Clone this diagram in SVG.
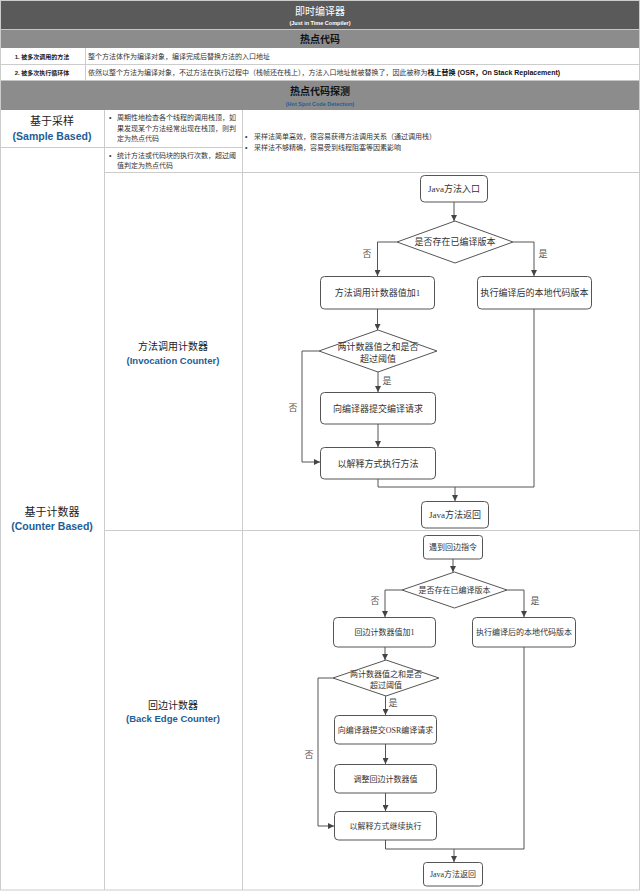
<svg xmlns="http://www.w3.org/2000/svg" width="640" height="893" viewBox="0 0 640 893">
<defs>
<marker id="ah" markerWidth="6" markerHeight="6" refX="6" refY="3" orient="auto" markerUnits="userSpaceOnUse"><path d="M0,0 L6,3 L0,6 z" fill="#444"/></marker>
<style>
.grid{stroke:#cccccc;stroke-width:1;fill:none}
.hdr{font-family:"Liberation Sans","Noto Sans CJK SC",sans-serif;text-anchor:middle}
.t{font-family:"Liberation Sans","Noto Sans CJK SC",sans-serif;fill:#333;font-size:7px}
.lbl{font-family:"Liberation Sans","Noto Sans CJK SC",sans-serif;text-anchor:middle;fill:#222}
.blue{fill:#1f5d96;font-weight:bold}
.box{fill:#fff;stroke:#555;stroke-width:1}
.ft{font-family:"Liberation Serif","Noto Sans CJK SC",serif;text-anchor:middle;fill:#333;font-size:9px}
.ft2{font-family:"Liberation Serif","Noto Sans CJK SC",serif;text-anchor:middle;fill:#333;font-size:8px}
.yn{font-family:"Liberation Serif","Noto Sans CJK SC",serif;text-anchor:middle;fill:#555;font-size:9px}
.c{fill:none;stroke:#555;stroke-width:1}
.ca{fill:none;stroke:#555;stroke-width:1;marker-end:url(#ah)}
</style>
</defs>
<rect x="0" y="0" width="640" height="893" fill="#fff"/>
<g id="header">
<rect x="0" y="0" width="640" height="29" fill="#5a5a5a"/>
<text class="hdr" x="320" y="15" font-size="10" fill="#fff">即时编译器</text>
<text class="hdr" x="320" y="24.5" font-size="5.5" font-weight="bold" fill="#fff">(Just in Time Compiler)</text>
<rect x="0" y="29.5" width="640" height="18.5" fill="#8c8c8c"/>
<text class="hdr" x="320" y="42.5" font-size="10" font-weight="bold" fill="#111">热点代码</text>
</g>
<g id="row1">
<text class="lbl" x="42" y="59" font-size="6" font-weight="bold">1. 被多次调用的方法</text>
<text class="t" x="88" y="59" font-size="6">整个方法体作为编译对象，编译完成后替换方法的入口地址</text>
</g>
<g id="row2">
<text class="lbl" x="42" y="75" font-size="6" font-weight="bold">2. 被多次执行循环体</text>
<text class="t" x="88" y="75" font-size="5.8">依然以整个方法为编译对象，不过方法在执行过程中（栈帧还在栈上），方法入口地址就被替换了，因此被称为<tspan font-weight="bold" fill="#111">栈上替换 (OSR，On Stack Replacement)</tspan></text>
</g>
<g id="detect-header">
<rect x="0" y="80.5" width="640" height="29.5" fill="#8c8c8c"/>
<text class="hdr" x="320" y="95" font-size="10" font-weight="bold" fill="#111">热点代码探测</text>
<text class="hdr blue" x="320" y="105.5" font-size="5.5">(Hot Spot Code Detection)</text>
</g>
<g id="grid">
<rect class="grid" x="0.5" y="0.5" width="639" height="889.5"/>
<line class="grid" x1="0" y1="64.5" x2="640" y2="64.5"/>
<line class="grid" x1="85.5" y1="48" x2="85.5" y2="80"/>
<line class="grid" x1="104.5" y1="110" x2="104.5" y2="890"/>
<line class="grid" x1="242.5" y1="110" x2="242.5" y2="890"/>
<line class="grid" x1="0" y1="147.5" x2="242" y2="147.5"/>
<line class="grid" x1="104" y1="172.5" x2="640" y2="172.5"/>
<line class="grid" x1="104" y1="530.5" x2="640" y2="530.5"/>
</g>
<g id="sample">
<text class="lbl" x="52" y="125" font-size="11">基于采样</text>
<text class="lbl blue" x="52" y="140" font-size="10.5">(Sample Based)</text>
<text class="t" x="109" y="120">•</text>
<text class="t" x="117" y="120">周期性地检查各个线程的调用栈顶，如</text>
<text class="t" x="117" y="130.5">果发现某个方法经常出现在栈顶，则判</text>
<text class="t" x="117" y="141">定为热点代码</text>
</g>
<g id="sample-notes">
<text class="t" x="245" y="138.5">•</text>
<text class="t" x="254" y="138.5">采样法简单高效，很容易获得方法调用关系（通过调用栈）</text>
<text class="t" x="245" y="149.5">•</text>
<text class="t" x="254" y="149.5">采样法不够精确，容易受到线程阻塞等因素影响</text>
</g>
<g id="counter-desc">
<text class="t" x="109" y="157.5">•</text>
<text class="t" x="117" y="157.5">统计方法或代码块的执行次数，超过阈</text>
<text class="t" x="117" y="168">值判定为热点代码</text>
</g>
<g id="counter">
<text class="lbl" x="52" y="516" font-size="11">基于计数器</text>
<text class="lbl blue" x="52" y="530" font-size="10.5">(Counter Based)</text>
</g>
<g id="invocation">
<text class="lbl" x="173" y="350" font-size="10">方法调用计数器</text>
<text class="lbl blue" x="173" y="364" font-size="9.5">(Invocation Counter)</text>
</g>
<g id="backedge">
<text class="lbl" x="173" y="709" font-size="10">回边计数器</text>
<text class="lbl blue" x="173" y="722" font-size="9.5">(Back Edge Counter)</text>
</g>
<g id="connectors">
<line class="ca" x1="454" y1="202" x2="454" y2="221"/>
<polyline class="ca" points="397,242 377.5,242 377.5,276"/>
<polyline class="ca" points="513,242 534,242 534,276"/>
<line class="ca" x1="377.5" y1="309" x2="377.5" y2="330"/>
<polyline class="ca" points="319,351 302,351 302,462 320,462"/>
<line class="ca" x1="378" y1="372" x2="378" y2="392"/>
<line class="ca" x1="378" y1="424" x2="378" y2="447"/>
<polyline class="c" points="378,479 378,487 534,487 534,309"/>
<line class="ca" x1="455" y1="487" x2="455" y2="501"/>
<line class="ca" x1="453" y1="559" x2="453" y2="572"/>
<polyline class="ca" points="402,590 385,590 385,617"/>
<polyline class="ca" points="507,590 524,590 524,617"/>
<line class="ca" x1="385" y1="647" x2="385" y2="660"/>
<polyline class="ca" points="333,678 318,678 318,826 334,826"/>
<line class="ca" x1="385.5" y1="696" x2="385.5" y2="715"/>
<line class="ca" x1="385.5" y1="744" x2="385.5" y2="764"/>
<line class="ca" x1="385.5" y1="793" x2="385.5" y2="811"/>
<polyline class="c" points="385.5,840 385.5,849 524,849 524,647"/>
<line class="ca" x1="454" y1="849" x2="454" y2="862"/>
<text class="yn" x="367" y="257">否</text>
<text class="yn" x="543" y="257">是</text>
<text class="yn" x="293" y="411">否</text>
<text class="yn" x="387" y="384">是</text>
<text class="yn" x="375" y="604">否</text>
<text class="yn" x="535" y="604">是</text>
<text class="yn" x="309" y="758">否</text>
<text class="yn" x="393" y="706">是</text>
</g>
<g id="f1-entry"><rect class="box" x="420.5" y="175.5" width="67" height="26.5" rx="4"/><text class="ft" x="454" y="192">Java方法入口</text></g>
<g id="f1-check"><polygon class="box" points="455,221 513,242 455,263 397,242"/><text class="ft" x="455" y="245">是否存在已编译版本</text></g>
<g id="f1-inc"><rect class="box" x="320.5" y="276.5" width="114" height="32.5" rx="4"/><text class="ft" x="377.5" y="296">方法调用计数器值加1</text></g>
<g id="f1-native"><rect class="box" x="477.5" y="276.5" width="114" height="32.5" rx="4"/><text class="ft" x="534.5" y="296">执行编译后的本地代码版本</text></g>
<g id="f1-threshold"><polygon class="box" points="378,330 437,351 378,372 319,351"/><text class="ft" x="378" y="350">两计数器值之和是否</text><text class="ft" x="378" y="362">超过阈值</text></g>
<g id="f1-submit"><rect class="box" x="320.5" y="392.5" width="115" height="31.5" rx="4"/><text class="ft" x="378" y="411.5">向编译器提交编译请求</text></g>
<g id="f1-interp"><rect class="box" x="320.5" y="447.5" width="115" height="31.5" rx="4"/><text class="ft" x="378" y="466.5">以解释方式执行方法</text></g>
<g id="f1-return"><rect class="box" x="421.5" y="501.5" width="67" height="26.5" rx="4"/><text class="ft" x="455" y="518">Java方法返回</text></g>
<g id="f2-entry"><rect class="box" x="423.5" y="535.5" width="59" height="23.5" rx="3"/><text class="ft2" x="453" y="550">遇到回边指令</text></g>
<g id="f2-check"><polygon class="box" points="454.5,572 507,590 454.5,608 402,590"/><text class="ft2" x="454.5" y="593">是否存在已编译版本</text></g>
<g id="f2-inc"><rect class="box" x="333.5" y="617.5" width="102" height="29.5" rx="4"/><text class="ft2" x="384.5" y="635">回边计数器值加1</text></g>
<g id="f2-native"><rect class="box" x="472.5" y="617.5" width="103" height="29.5" rx="4"/><text class="ft2" x="524" y="635">执行编译后的本地代码版本</text></g>
<g id="f2-threshold"><polygon class="box" points="386,660 439,678 386,696 333,678"/><text class="ft2" x="386" y="677">两计数器值之和是否</text><text class="ft2" x="386" y="688">超过阈值</text></g>
<g id="f2-submit"><rect class="box" x="334.5" y="715.5" width="102" height="28.5" rx="4"/><text class="ft2" x="385.5" y="732.5">向编译器提交OSR编译请求</text></g>
<g id="f2-adjust"><rect class="box" x="334.5" y="764.5" width="102" height="28.5" rx="4"/><text class="ft2" x="385.5" y="781.5">调整回边计数器值</text></g>
<g id="f2-interp"><rect class="box" x="334.5" y="811.5" width="102" height="28.5" rx="4"/><text class="ft2" x="385.5" y="828.5">以解释方式继续执行</text></g>
<g id="f2-return"><rect class="box" x="423.5" y="862.5" width="59" height="23.5" rx="3"/><text class="ft2" x="453" y="877">Java方法返回</text></g>
</svg>
